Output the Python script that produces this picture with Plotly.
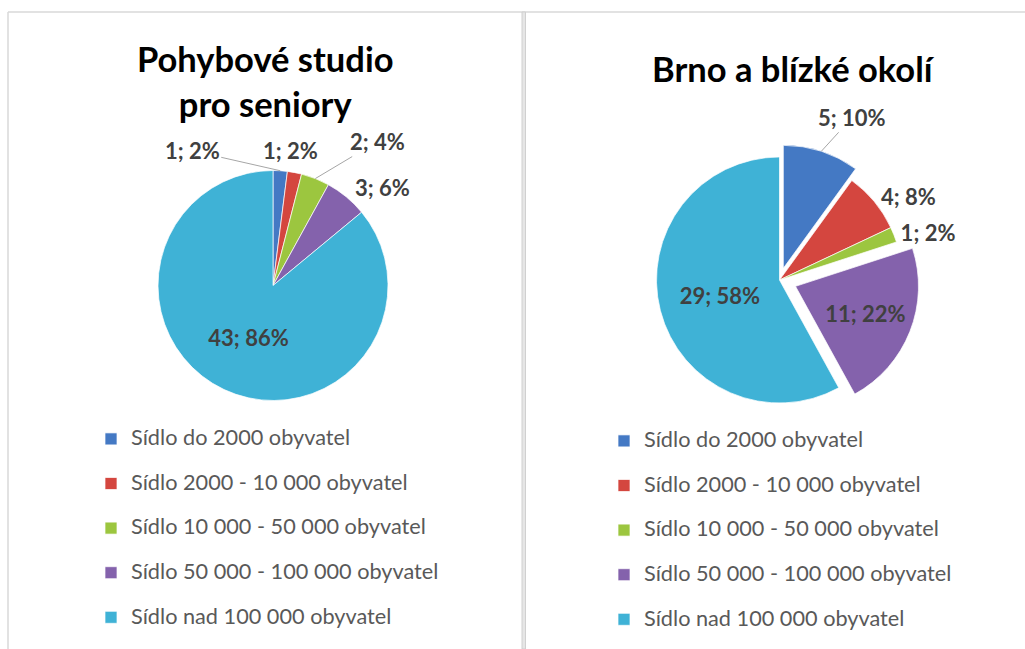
import math
import plotly.graph_objects as go

categories = [
    "Sídlo do 2000 obyvatel",
    "Sídlo 2000 - 10 000 obyvatel",
    "Sídlo 10 000 - 50 000 obyvatel",
    "Sídlo 50 000 - 100 000 obyvatel",
    "Sídlo nad 100 000 obyvatel",
]
studio_values = [1, 1, 2, 3, 43]
brno_values = [5, 4, 1, 11, 29]
brno_pull = [0.1, 0, 0, 0.14, 0]

title_left = "Pohybové studio<br>pro seniory"
title_right = "Brno a blízké okolí"

colors = ["#4479C4", "#D4463F", "#9CC63F", "#8462AC", "#3FB2D6"]

W, H = 1025, 649
FONT = "Lato"
LABEL_COLOR = "#404040"
LABEL_SIZE = 22


def px(x):
    return x / W


def py(y):
    return 1 - y / H


# legend labels: visible line + blank line that sets the row spacing
leg_left = [f"<span style='font-size:21.7px'>{c}</span><br> " for c in categories]
leg_right = [f"<span style='font-size:21.7px'>{c}</span><br>\u00a0" for c in categories]

# pie geometry (pixels)
L_CX, L_CY, L_R = 273, 285.5, 115
R_CX, R_CY, R_R = 779.5, 280, 123
R_MAXPULL = max(brno_pull)
R_HALF = R_R * (1 + R_MAXPULL)

fig = go.Figure()

fig.add_trace(go.Pie(
    labels=leg_left,
    values=studio_values,
    sort=False,
    direction="clockwise",
    rotation=0,
    marker=dict(colors=colors, line=dict(color="rgba(255,255,255,0.7)", width=1)),
    texttemplate="%{value}; %{percent:.0%}",
    textposition=["none", "none", "none", "none", "inside"],
    insidetextorientation="horizontal",
    textfont=dict(family=FONT, size=LABEL_SIZE, color=LABEL_COLOR, weight="bold"),
    domain=dict(x=[px(L_CX - L_R), px(L_CX + L_R)], y=[py(L_CY + L_R), py(L_CY - L_R)]),
    legend="legend",
    hoverinfo="value+percent",
))

fig.add_trace(go.Pie(
    labels=leg_right,
    values=brno_values,
    sort=False,
    direction="clockwise",
    rotation=0,
    pull=brno_pull,
    marker=dict(colors=colors, line=dict(color="rgba(255,255,255,0.7)", width=1)),
    texttemplate="%{value}; %{percent:.0%}",
    textposition=["none", "outside", "outside", "inside", "inside"],
    insidetextorientation="horizontal",
    textfont=dict(family=FONT, size=LABEL_SIZE, color=LABEL_COLOR, weight="bold"),
    domain=dict(x=[px(R_CX - R_HALF), px(R_CX + R_HALF)], y=[py(R_CY + R_HALF), py(R_CY - R_HALF)]),
    legend="legend2",
    hoverinfo="value+percent",
))


def edge_point(values, idx, cx, cy, r, pull=0.0):
    total = sum(values)
    start = sum(values[:idx])
    mid = (start + values[idx] / 2) / total * 2 * math.pi
    d = r * (1 + pull)
    return cx + d * math.sin(mid), cy - d * math.cos(mid)


def slice_label(values, idx, cx, cy, r, style, pull=0.0):
    ex, ey = edge_point(values, idx, cx, cy, r, pull)
    v = values[idx]
    pct = round(100 * v / sum(values))
    a = dict(text=f"<b>{v}; {pct}%</b>", x=px(ex), y=py(ey), xref="paper", yref="paper",
             font=dict(family=FONT, size=LABEL_SIZE, color=LABEL_COLOR),
             arrowhead=0, arrowwidth=1, arrowcolor="#A6A6A6", standoff=0)
    a.update(style)
    if a["showarrow"]:
        a.update(axref="pixel", ayref="pixel")
    else:
        a.update(xanchor="center", yanchor="middle")
    return a


left_styles = {
    0: dict(showarrow=True, ax=-88, ay=-20),
    1: dict(showarrow=False, xshift=-4, yshift=22),
    2: dict(showarrow=True, ax=62, ay=-37),
    3: dict(showarrow=False, xshift=36, yshift=9),
}
annotations = [slice_label(studio_values, i, L_CX, L_CY, L_R, s) for i, s in left_styles.items()]
annotations.append(slice_label(brno_values, 0, R_CX, R_CY, R_R,
                               dict(showarrow=True, ax=31, ay=-34), pull=brno_pull[0]))

annotations += [
    dict(text=f"<b>{title_left}</b>", x=px(265), y=py(80.5), xref="paper", yref="paper",
         xanchor="center", yanchor="middle", showarrow=False,
         font=dict(family=FONT, size=34.5, color="#000000")),
    dict(text=f"<b>{title_right}</b>", x=px(793), y=py(68), xref="paper", yref="paper",
         xanchor="center", yanchor="middle", showarrow=False,
         font=dict(family=FONT, size=34.5, color="#000000")),
]

leg_common = dict(
    font=dict(family=FONT, size=16.0, color="#595959"),
    xanchor="left", yanchor="top",
    valign="top",
    itemwidth=30,
    bgcolor="rgba(0,0,0,0)",
    itemclick=False, itemdoubleclick=False,
)

fig.update_layout(
    width=W, height=H,
    margin=dict(l=0, r=0, t=0, b=0, autoexpand=False),
    paper_bgcolor="white",
    plot_bgcolor="white",
    font=dict(family=FONT),
    legend=dict(x=px(91), y=py(422), **leg_common),
    legend2=dict(x=px(604), y=py(424), **leg_common),
    annotations=annotations,
    shapes=[
        dict(type="line", xref="paper", yref="paper", x0=px(8), x1=1, y0=py(12), y1=py(12),
             line=dict(color="#D9D9D9", width=1.5)),
        dict(type="line", xref="paper", yref="paper", x0=px(8), x1=px(8), y0=py(12), y1=0,
             line=dict(color="#D9D9D9", width=1.5)),
        dict(type="rect", xref="paper", yref="paper", x0=px(522), x1=px(525.5), y0=0, y1=py(12),
             line=dict(color="#D0D0D0", width=1), fillcolor="#E6E6E6"),
    ],
)

fig.write_html("out.html", config={"displayModeBar": False},
               post_script="document.body.style.margin='0';")
